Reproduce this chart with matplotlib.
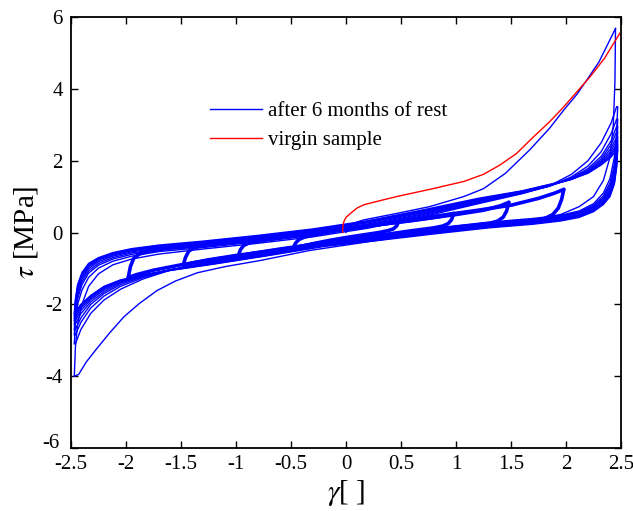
import matplotlib
matplotlib.use("Agg")
import matplotlib.pyplot as plt
from matplotlib.transforms import ScaledTranslation

plt.rcParams['font.family'] = ['Liberation Serif', 'DejaVu Serif']
plt.rcParams['mathtext.fontset'] = 'stix'

# ---- strain grids (gamma) for the large +/-2.5 cycles ----
gamma_up = [-2.47, -2.46, -2.44, -2.40, -2.34, -2.25, -2.12, -1.95, -1.7, -1.3, -0.8,
            -0.3, 0.2, 0.7, 1.2, 1.6, 1.85, 2.05, 2.2, 2.32, 2.41, 2.46]
gamma_down = [2.47, 2.46, 2.44, 2.40, 2.34, 2.25, 2.12, 1.95, 1.7, 1.3, 0.8,
              0.3, -0.2, -0.7, -1.2, -1.6, -1.85, -2.05, -2.2, -2.32, -2.41, -2.46]

# stress on the loading branches (trough -> peak), one row per cycle
tau_up = [
    [-4.0, -3.2, -2.55, -2.0, -1.5, -1.15, -0.9, -0.74, -0.6, -0.46, -0.3, -0.12, 0.12, 0.44, 0.8, 1.08, 1.3, 1.62, 2.0, 2.5, 3.05, 3.5],
    [-3.1, -2.5, -2.0, -1.6, -1.25, -0.99, -0.8, -0.66, -0.53, -0.42, -0.26, -0.08, 0.15, 0.47, 0.82, 1.09, 1.29, 1.55, 1.85, 2.25, 2.75, 3.15],
    [-2.85, -2.3, -1.85, -1.45, -1.13, -0.91, -0.74, -0.61, -0.49, -0.39, -0.23, -0.05, 0.18, 0.5, 0.84, 1.1, 1.29, 1.52, 1.78, 2.12, 2.55, 2.95],
    [-2.7, -2.2, -1.75, -1.37, -1.07, -0.86, -0.7, -0.57, -0.46, -0.36, -0.2, -0.02, 0.21, 0.52, 0.86, 1.11, 1.3, 1.5, 1.74, 2.05, 2.45, 2.8],
    [-2.55, -2.1, -1.66, -1.3, -1.01, -0.81, -0.66, -0.54, -0.43, -0.33, -0.17, 0.01, 0.24, 0.55, 0.88, 1.12, 1.3, 1.49, 1.71, 2.0, 2.35, 2.65],
    [-2.45, -2.02, -1.6, -1.24, -0.96, -0.77, -0.63, -0.51, -0.41, -0.3, -0.14, 0.04, 0.27, 0.57, 0.9, 1.13, 1.31, 1.48, 1.69, 1.96, 2.27, 2.55],
    [-2.38, -1.96, -1.55, -1.19, -0.92, -0.74, -0.6, -0.49, -0.39, -0.28, -0.12, 0.06, 0.29, 0.59, 0.92, 1.14, 1.32, 1.48, 1.67, 1.93, 2.2, 2.45],
    [-2.3, -1.9, -1.5, -1.15, -0.89, -0.72, -0.58, -0.47, -0.37, -0.26, -0.1, 0.08, 0.31, 0.61, 0.93, 1.15, 1.33, 1.48, 1.66, 1.9, 2.15, 2.38],
    [-2.25, -1.85, -1.45, -1.11, -0.86, -0.7, -0.56, -0.45, -0.35, -0.24, -0.08, 0.1, 0.33, 0.63, 0.95, 1.16, 1.34, 1.49, 1.65, 1.88, 2.1, 2.3],
]

# stress on the unloading branches (peak -> trough), one row per cycle
tau_down = [
    [3.5, 2.8, 2.1, 1.5, 1.1, 0.8, 0.6, 0.48, 0.39, 0.29, 0.12, -0.06, -0.24, -0.52, -0.8, -1.05, -1.3, -1.58, -1.88, -2.25, -2.7, -3.1],
    [3.15, 2.5, 1.9, 1.38, 1.02, 0.76, 0.57, 0.46, 0.37, 0.27, 0.1, -0.08, -0.26, -0.53, -0.81, -1.05, -1.26, -1.5, -1.77, -2.1, -2.5, -2.85],
    [2.95, 2.35, 1.78, 1.3, 0.97, 0.73, 0.55, 0.44, 0.35, 0.25, 0.08, -0.1, -0.27, -0.54, -0.82, -1.04, -1.23, -1.45, -1.7, -2.0, -2.38, -2.7],
    [2.8, 2.22, 1.68, 1.23, 0.93, 0.7, 0.53, 0.42, 0.33, 0.23, 0.06, -0.12, -0.29, -0.56, -0.83, -1.04, -1.21, -1.41, -1.65, -1.93, -2.26, -2.55],
    [2.65, 2.1, 1.58, 1.17, 0.89, 0.67, 0.5, 0.4, 0.31, 0.21, 0.04, -0.14, -0.31, -0.58, -0.84, -1.04, -1.2, -1.38, -1.6, -1.87, -2.17, -2.45],
    [2.55, 2.0, 1.5, 1.12, 0.85, 0.65, 0.48, 0.38, 0.29, 0.19, 0.02, -0.16, -0.33, -0.6, -0.85, -1.04, -1.19, -1.36, -1.56, -1.83, -2.1, -2.38],
    [2.45, 1.92, 1.44, 1.07, 0.82, 0.62, 0.46, 0.36, 0.27, 0.17, 0.0, -0.18, -0.35, -0.62, -0.86, -1.05, -1.19, -1.34, -1.53, -1.79, -2.05, -2.3],
    [2.38, 1.86, 1.4, 1.04, 0.8, 0.6, 0.44, 0.34, 0.25, 0.15, -0.02, -0.2, -0.37, -0.63, -0.87, -1.05, -1.19, -1.33, -1.51, -1.77, -2.02, -2.25],
    [2.3, 1.8, 1.35, 1.0, 0.78, 0.58, 0.42, 0.32, 0.23, 0.13, -0.04, -0.22, -0.39, -0.64, -0.88, -1.06, -1.19, -1.32, -1.5, -1.75, -2.0, -2.2],
]

# first loading and unloading after the rest period
first_up_gamma = [0.0, 0.03, 0.16, 0.46, 0.76, 1.07, 1.25, 1.45, 1.67, 1.85, 1.98, 2.1, 2.19, 2.3, 2.45]
first_up_tau = [0.0, 0.22, 0.35, 0.53, 0.72, 1.0, 1.22, 1.65, 2.3, 2.9, 3.41, 3.85, 4.25, 4.75, 5.68]
first_down_gamma = [2.45, 2.445, 2.43, 2.4, 2.34, 2.25, 2.12, 1.95, 1.6, 1.0, 0.5, 0.0,
                    -0.33, -0.78, -1.1, -1.35, -1.55, -1.72, -1.88, -2.02, -2.15, -2.27,
                    -2.36, -2.43, -2.47]
first_down_tau = [5.68, 4.2, 3.0, 2.1, 1.45, 1.0, 0.72, 0.5, 0.3, 0.08, -0.12, -0.35,
                  -0.5, -0.78, -0.95, -1.12, -1.35, -1.62, -1.98, -2.35, -2.8, -3.25,
                  -3.6, -3.95, -4.0]

# smaller strain amplitudes (several repeated cycles each)
loop20_up_gamma = [-1.98, -1.96, -1.93, -1.88, -1.8, -1.6, -1.2, -0.7, -0.2, 0.3, 0.8, 1.2, 1.5, 1.75, 1.9, 1.98]
loop20_up_tau = [-1.25, -0.95, -0.72, -0.6, -0.52, -0.43, -0.32, -0.17, 0.02, 0.22, 0.45, 0.62, 0.76, 0.95, 1.1, 1.2]
loop20_down_gamma = [1.98, 1.96, 1.93, 1.88, 1.8, 1.6, 1.2, 0.7, 0.2, -0.3, -0.8, -1.2, -1.5, -1.75, -1.9, -1.98]
loop20_down_tau = [1.2, 0.92, 0.68, 0.5, 0.38, 0.28, 0.17, 0.02, -0.17, -0.36, -0.57, -0.75, -0.9, -1.05, -1.17, -1.25]

loop15_up_gamma = [-1.48, -1.46, -1.43, -1.38, -1.3, -1.1, -0.7, -0.2, 0.3, 0.7, 1.0, 1.25, 1.4, 1.48]
loop15_up_tau = [-0.92, -0.7, -0.52, -0.42, -0.36, -0.28, -0.15, 0.03, 0.22, 0.38, 0.5, 0.62, 0.74, 0.84]
loop15_down_gamma = [1.48, 1.46, 1.43, 1.38, 1.3, 1.1, 0.7, 0.2, -0.3, -0.7, -1.0, -1.25, -1.4, -1.48]
loop15_down_tau = [0.84, 0.6, 0.43, 0.32, 0.25, 0.18, 0.04, -0.16, -0.35, -0.52, -0.64, -0.76, -0.85, -0.92]

loop10_up_gamma = [-0.98, -0.96, -0.93, -0.88, -0.8, -0.6, -0.3, 0.0, 0.3, 0.6, 0.85, 0.98]
loop10_up_tau = [-0.66, -0.48, -0.36, -0.29, -0.24, -0.15, -0.03, 0.1, 0.22, 0.33, 0.44, 0.53]
loop10_down_gamma = [0.98, 0.96, 0.93, 0.88, 0.8, 0.6, 0.3, 0.0, -0.3, -0.6, -0.85, -0.98]
loop10_down_tau = [0.53, 0.36, 0.25, 0.18, 0.13, 0.05, -0.08, -0.2, -0.33, -0.46, -0.58, -0.66]

loop05_up_gamma = [-0.48, -0.46, -0.43, -0.38, -0.3, -0.15, 0.0, 0.15, 0.3, 0.4, 0.48]
loop05_up_tau = [-0.44, -0.3, -0.2, -0.13, -0.07, 0.02, 0.1, 0.17, 0.23, 0.27, 0.31]
loop05_down_gamma = [0.48, 0.46, 0.43, 0.38, 0.3, 0.15, 0.0, -0.15, -0.3, -0.4, -0.48]
loop05_down_tau = [0.31, 0.18, 0.1, 0.05, 0.0, -0.07, -0.14, -0.22, -0.31, -0.38, -0.44]

# virgin sample, first loading
virgin_gamma = [-0.03, -0.03, -0.02, 0.0, 0.04, 0.1, 0.16, 0.3, 0.46, 0.76, 1.07, 1.25,
                1.4, 1.55, 1.7, 1.85, 1.98, 2.1, 2.22, 2.35, 2.49]
virgin_tau = [0.0, 0.15, 0.3, 0.42, 0.53, 0.68, 0.77, 0.88, 1.0, 1.2, 1.42, 1.62,
              1.88, 2.2, 2.65, 3.08, 3.5, 3.92, 4.34, 4.85, 5.55]

x_ticks = [-2.5, -2, -1.5, -1, -0.5, 0, 0.5, 1, 1.5, 2, 2.5]
x_tick_labels = ['-2.5', '-2', '-1.5', '-1', '-0.5', '0', '0.5', '1', '1.5', '2', '2.5']
y_ticks = [-6, -4, -2, 0, 2, 4, 6]
y_tick_labels = ['-6', '-4', '-2', '0', '2', '4', '6']

BLUE = '#0000ff'
RED = '#ff0000'

fig = plt.figure(figsize=(6.33, 5.11), dpi=100)
ax = fig.add_axes([71 / 633, 1 - 448 / 511, 550 / 633, 431 / 511])

lw_thin = 1.0
ax.plot(first_up_gamma, first_up_tau, color=BLUE, lw=lw_thin)
ax.plot(first_down_gamma, first_down_tau, color=BLUE, lw=lw_thin)
for row in tau_up:
    ax.plot(gamma_up, row, color=BLUE, lw=lw_thin)
for row in tau_down:
    ax.plot(gamma_down, row, color=BLUE, lw=lw_thin)

small_loops = [
    (loop20_up_gamma, loop20_up_tau, loop20_down_gamma, loop20_down_tau),
    (loop15_up_gamma, loop15_up_tau, loop15_down_gamma, loop15_down_tau),
    (loop10_up_gamma, loop10_up_tau, loop10_down_gamma, loop10_down_tau),
    (loop05_up_gamma, loop05_up_tau, loop05_down_gamma, loop05_down_tau),
]
for gu, tu, gd, td in small_loops:
    ax.plot(gu, tu, color=BLUE, lw=2.6, solid_capstyle='round', solid_joinstyle='round')
    ax.plot(gd, td, color=BLUE, lw=2.6, solid_capstyle='round', solid_joinstyle='round')

ax.plot(virgin_gamma, virgin_tau, color=RED, lw=lw_thin)

# legend entries
h_rest, = ax.plot([], [], color=BLUE, lw=lw_thin, label='after 6 months of rest')
h_virgin, = ax.plot([], [], color=RED, lw=lw_thin, label='virgin sample')
ax.legend(handles=[h_rest, h_virgin], loc='upper left', bbox_to_anchor=(0.253, 0.803),
          frameon=False, fontsize=15, handlelength=2.5, handletextpad=0.3,
          labelspacing=0.45, borderpad=0, borderaxespad=0)

ax.set_xlim(-2.5, 2.5)
ax.set_ylim(-6, 6)
ax.set_xticks(x_ticks)
ax.set_xticklabels(x_tick_labels)
ax.set_yticks(y_ticks)
ax.set_yticklabels(y_tick_labels)
ax.tick_params(direction='in', length=5, width=1, top=True, right=True,
               labelsize=15)
ax.tick_params(axis='x', pad=5)
ax.tick_params(axis='y', pad=6)
for s in ax.spines.values():
    s.set_linewidth(1.3)

# lift the bottom y label slightly so it clears the first x label
bottom_label = ax.get_yticklabels()[0]
bottom_label.set_transform(bottom_label.get_transform()
                           + ScaledTranslation(-2 / 72, 5 / 72, fig.dpi_scale_trans))

ax.set_xlabel(r'$\gamma$[ ]', fontsize=21, labelpad=3)
ax.set_ylabel(r'$\tau$ [MPa]', fontsize=21, labelpad=2)

fig.savefig('out.png', dpi=100)
